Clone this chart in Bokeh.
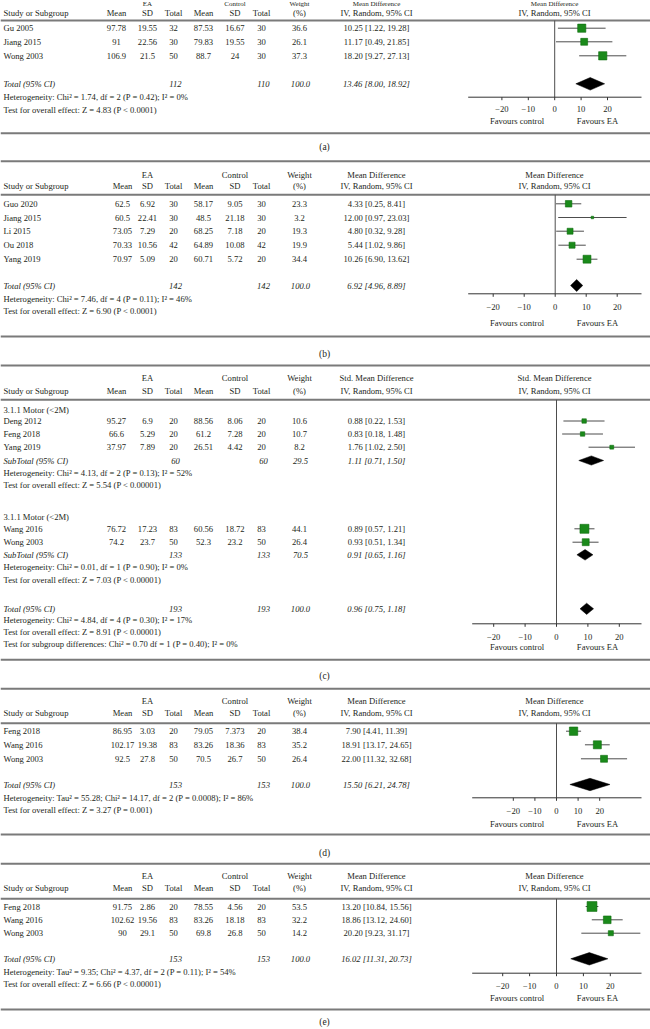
import numpy as np
from bokeh.plotting import figure
from bokeh.models import Range1d, ColumnDataSource
from bokeh.core.properties import value
from bokeh.embed import file_html
from bokeh.resources import INLINE

# ---------------- data ----------------
tick_values = [-20, -10, 0, 10, 20]
tick_labels = ["\u221220", "\u221210", "0", "10", "20"]

# (a)
a_study = ["Gu 2005", "Jiang 2015", "Wong 2003"]
a_ea_mean = [97.78, 91, 106.9]
a_ea_sd = [19.55, 22.56, 21.5]
a_ea_n = [32, 30, 50]
a_c_mean = [87.53, 79.83, 88.7]
a_c_sd = [16.67, 19.55, 24]
a_c_n = [30, 30, 30]
a_weight = [36.6, 26.1, 37.3]
a_est = [10.25, 11.17, 18.20]
a_lo = [1.22, 0.49, 9.27]
a_hi = [19.28, 21.85, 27.13]
a_total = [13.46, 8.00, 18.92]
a_total_n = [112, 110]
a_notes = ["Heterogeneity: Chi\u00b2 = 1.74, df = 2 (P = 0.42); I\u00b2 = 0%",
           "Test for overall effect: Z = 4.83 (P < 0.0001)"]

# (b)
b_study = ["Guo 2020", "Jiang 2015", "Li 2015", "Ou 2018", "Yang 2019"]
b_ea_mean = [62.5, 60.5, 73.05, 70.33, 70.97]
b_ea_sd = [6.92, 22.41, 7.29, 10.56, 5.09]
b_ea_n = [30, 30, 20, 42, 20]
b_c_mean = [58.17, 48.5, 68.25, 64.89, 60.71]
b_c_sd = [9.05, 21.18, 7.18, 10.08, 5.72]
b_c_n = [30, 30, 20, 42, 20]
b_weight = [23.3, 3.2, 19.3, 19.9, 34.4]
b_est = [4.33, 12.00, 4.80, 5.44, 10.26]
b_lo = [0.25, 0.97, 0.32, 1.02, 6.90]
b_hi = [8.41, 23.03, 9.28, 9.86, 13.62]
b_total = [6.92, 4.96, 8.89]
b_total_n = [142, 142]
b_notes = ["Heterogeneity: Chi\u00b2 = 7.46, df = 4 (P = 0.11); I\u00b2 = 46%",
           "Test for overall effect: Z = 6.90 (P < 0.0001)"]

# (c) standardised mean differences, two subgroups
c_group = "3.1.1 Motor (<2M)"
c1_study = ["Deng 2012", "Feng 2018", "Yang 2019"]
c1_ea_mean = [95.27, 66.6, 37.97]
c1_ea_sd = [6.9, 5.29, 7.89]
c1_ea_n = [20, 20, 20]
c1_c_mean = [88.56, 61.2, 26.51]
c1_c_sd = [8.06, 7.28, 4.42]
c1_c_n = [20, 20, 20]
c1_weight = [10.6, 10.7, 8.2]
c1_est = [0.88, 0.83, 1.76]
c1_lo = [0.22, 0.18, 1.02]
c1_hi = [1.53, 1.48, 2.50]
c1_sub = [1.11, 0.71, 1.50]
c1_sub_n = [60, 60]
c1_sub_w = 29.5
c1_notes = ["Heterogeneity: Chi\u00b2 = 4.13, df = 2 (P = 0.13); I\u00b2 = 52%",
            "Test for overall effect: Z = 5.54 (P < 0.00001)"]
c2_study = ["Wang 2016", "Wong 2003"]
c2_ea_mean = [76.72, 74.2]
c2_ea_sd = [17.23, 23.7]
c2_ea_n = [83, 50]
c2_c_mean = [60.56, 52.3]
c2_c_sd = [18.72, 23.2]
c2_c_n = [83, 50]
c2_weight = [44.1, 26.4]
c2_est = [0.89, 0.93]
c2_lo = [0.57, 0.51]
c2_hi = [1.21, 1.34]
c2_sub = [0.91, 0.65, 1.16]
c2_sub_n = [133, 133]
c2_sub_w = 70.5
c2_notes = ["Heterogeneity: Chi\u00b2 = 0.01, df = 1 (P = 0.90); I\u00b2 = 0%",
            "Test for overall effect: Z = 7.03 (P < 0.00001)"]
c_total = [0.96, 0.75, 1.18]
c_total_n = [193, 193]
c_notes = ["Heterogeneity: Chi\u00b2 = 4.84, df = 4 (P = 0.30); I\u00b2 = 17%",
           "Test for overall effect: Z = 8.91 (P < 0.00001)",
           "Test for subgroup differences: Chi\u00b2 = 0.70 df = 1 (P = 0.40); I\u00b2 = 0%"]

# (d)
d_study = ["Feng 2018", "Wang 2016", "Wong 2003"]
d_ea_mean = [86.95, 102.17, 92.5]
d_ea_sd = [3.03, 19.38, 27.8]
d_ea_n = [20, 83, 50]
d_c_mean = [79.05, 83.26, 70.5]
d_c_sd = [7.373, 18.36, 26.7]
d_c_n = [20, 83, 50]
d_weight = [38.4, 35.2, 26.4]
d_est = [7.90, 18.91, 22.00]
d_lo = [4.41, 13.17, 11.32]
d_hi = [11.39, 24.65, 32.68]
d_total = [15.50, 6.21, 24.78]
d_total_n = [153, 153]
d_notes = ["Heterogeneity: Tau\u00b2 = 55.28; Chi\u00b2 = 14.17, df = 2 (P = 0.0008); I\u00b2 = 86%",
           "Test for overall effect: Z = 3.27 (P = 0.001)"]

# (e)
e_study = ["Feng 2018", "Wang 2016", "Wong 2003"]
e_ea_mean = [91.75, 102.62, 90]
e_ea_sd = [2.86, 19.56, 29.1]
e_ea_n = [20, 83, 50]
e_c_mean = [78.55, 83.26, 69.8]
e_c_sd = [4.56, 18.18, 26.8]
e_c_n = [20, 83, 50]
e_weight = [53.5, 32.2, 14.2]
e_est = [13.20, 18.86, 20.20]
e_lo = [10.84, 13.12, 9.23]
e_hi = [15.56, 24.60, 31.17]
e_total = [16.02, 11.31, 20.73]
e_diamond = [12.2, 5.3, 19.1]   # diamond as drawn in the figure
e_total_n = [153, 153]
e_notes = ["Heterogeneity: Tau\u00b2 = 9.35; Chi\u00b2 = 4.37, df = 2 (P = 0.11); I\u00b2 = 54%",
           "Test for overall effect: Z = 6.66 (P < 0.00001)"]

# ---------------- styling ----------------
FONT = "Liberation Serif"
FS = "8.6px"
TXT = "#231f20"
RULE = "#7a7a7a"
LINE = "#4d4d4d"
GREEN = "#1a8a1a"
X0, X1 = 0, 650
Y0, Y1 = 0, 1029
XL = 3  # left text column

COL_SD, COL_N, COL_CM, COL_CSD, COL_CN, COL_W = 147, 173, 203, 234.5, 261, 299
COL_EFF, COL_FOR = 376, 554

p = figure(width=650, height=1029, x_range=Range1d(X0, X1), y_range=Range1d(Y1, Y0),
           output_backend="svg", toolbar_location=None, min_border=0,
           x_axis_location=None, y_axis_location=None)
p.grid.visible = False
p.outline_line_color = None
p.background_fill_color = "white"
p.border_fill_color = "white"
p.extra_x_ranges = {}


def text(xs, ys, ts, align="center", style="normal", size=FS, color=TXT, rng="default"):
    src = ColumnDataSource(dict(x=list(xs), y=list(ys), t=list(ts)))
    p.text(x="x", y="y", text="t", source=src, text_align=align, text_baseline="middle",
           text_font=value(FONT), text_font_size=size, text_font_style=style,
           text_color=color, x_range_name=rng)


def hrule(y):
    p.segment(x0=[0], x1=[650], y0=[y], y1=[y], line_color=RULE, line_width=2)


def fmt(v):
    return f"{v:g}"


def eff(e, l, h):
    return f"{e:.2f} [{l:.2f}, {h:.2f}]"


def add_range(key, zero_px, px_per_unit):
    p.extra_x_ranges[key] = Range1d((X0 - zero_px) / px_per_unit, (X1 - zero_px) / px_per_unit)


def studies(ys, rng, mean_x, names, em, esd, en, cm, csd, cn, w, est, lo, hi):
    n = len(names)
    text([XL] * n, ys, names, align="left")
    text([mean_x] * n, ys, [fmt(v) for v in em])
    text([COL_SD] * n, ys, [fmt(v) for v in esd])
    text([COL_N] * n, ys, [fmt(v) for v in en])
    text([COL_CM] * n, ys, [fmt(v) for v in cm])
    text([COL_CSD] * n, ys, [fmt(v) for v in csd])
    text([COL_CN] * n, ys, [fmt(v) for v in cn])
    text([COL_W] * n, ys, [f"{v:.1f}" for v in w])
    text([COL_EFF] * n, ys, [eff(a, b, c) for a, b, c in zip(est, lo, hi)])
    p.segment(x0=lo, x1=hi, y0=ys, y1=ys, x_range_name=rng, line_color=LINE, line_width=1)
    sizes = [max(2.5, 1.35 * np.sqrt(v)) for v in w]
    p.scatter(x=est, y=ys, size=sizes, marker="square", x_range_name=rng,
              fill_color=GREEN, line_color="#0d6b0d", line_width=0.6)


def summary(y, rng, label, ntot, w, tot, h, dia=None):
    text([XL], [y], [label], align="left", style="italic")
    text([COL_N + 2, COL_CN + 2, COL_W + 1], [y] * 3, [str(ntot[0]), str(ntot[1]), f"{w:.1f}"], style="italic")
    text([COL_EFF], [y], [eff(*tot)], style="italic")
    e, l, hh = dia if dia is not None else tot
    p.patches(xs=[[l, e, hh, e]], ys=[[y, y - h, y, y + h]], x_range_name=rng,
              fill_color="black", line_color="black", line_width=0.5)


def frame(rng, eff_title, head1, head2, rule_top, rule_head, axis_y, tick_y, fav_y,
          rule_bot, label, label_y, ax_l, mean_x, tick_scale=1.0, head1_size=FS):
    if rule_top is not None:
        hrule(rule_top)
    text([COL_SD, COL_CSD, COL_W, COL_EFF, COL_FOR], [head1] * 5,
         ["EA", "Control", "Weight", eff_title, eff_title], size=head1_size)
    text([XL], [head2], ["Study or Subgroup"], align="left")
    text([mean_x, COL_SD, COL_N, COL_CM, COL_CSD, COL_CN, COL_W, COL_EFF, COL_FOR], [head2] * 9,
         ["Mean", "SD", "Total", "Mean", "SD", "Total", "(%)", "IV, Random, 95% CI", "IV, Random, 95% CI"])
    hrule(rule_head)
    hrule(rule_bot)
    # zero line
    p.segment(x0=[0], x1=[0], y0=[rule_head], y1=[axis_y], x_range_name=rng, line_color=LINE, line_width=1)
    # axis
    p.segment(x0=[ax_l], x1=[641], y0=[axis_y], y1=[axis_y], line_color="#333333", line_width=1)
    tv = [t * tick_scale for t in tick_values]
    p.segment(x0=tv, x1=tv, y0=[axis_y] * 5, y1=[axis_y + 3] * 5, x_range_name=rng,
              line_color="#333333", line_width=1)
    text(tv, [tick_y] * 5, tick_labels, rng=rng)
    text([516.5, 597], [fav_y] * 2, ["Favours control", "Favours EA"])
    text([324], [label_y], [label], size="9.5px")


# ---------- panel (a) ----------
add_range("a", 554.2, 2.64)
frame("a", "Mean Difference", 3.9, 12, None, 20, 96.7, 108.3, 120.7, 132.7, "(a)", 146.7, 467.7, 116,
      head1_size="7px")
studies([27.7, 41.3, 55.3], "a", 116, a_study, a_ea_mean, a_ea_sd, a_ea_n, a_c_mean, a_c_sd, a_c_n,
        a_weight, a_est, a_lo, a_hi)
summary(83.3, "a", "Total (95% CI)", a_total_n, 100.0, a_total, 6.3)
text([XL] * 2, [96.7, 109.3], a_notes, align="left")

# ---------- panel (b) ----------
add_range("b", 554.7, 3.1)
frame("b", "Mean Difference", 174.5, 185, 160.7, 194.3, 293.3, 306.7, 322.7, 336, "(b)", 353, 467.7, 122)
studies([203.3, 217, 230.7, 244.7, 258.7], "b", 122, b_study, b_ea_mean, b_ea_sd, b_ea_n, b_c_mean,
        b_c_sd, b_c_n, b_weight, b_est, b_lo, b_hi)
summary(285, "b", "Total (95% CI)", b_total_n, 100.0, b_total, 6.0)
text([XL] * 2, [298, 310.5], b_notes, align="left")

# ---------- panel (c) ----------
add_range("c", 556, 31.4)
frame("c", "Std. Mean Difference", 377.3, 390, 365, 399.3, 623.3, 636.7, 646.7, 659.3, "(c)", 675,
      471.7, 116, tick_scale=0.1)
text([XL], [409.3], [c_group], align="left")
studies([420.5, 433.5, 446.7], "c", 116, c1_study, c1_ea_mean, c1_ea_sd, c1_ea_n, c1_c_mean, c1_c_sd,
        c1_c_n, c1_weight, c1_est, c1_lo, c1_hi)
summary(460, "c", "SubTotal (95% CI)", c1_sub_n, c1_sub_w, c1_sub, 4.6)
text([XL] * 2, [472, 484.5], c1_notes, align="left")
text([XL], [516], [c_group], align="left")
studies([528.3, 541.7], "c", 116, c2_study, c2_ea_mean, c2_ea_sd, c2_ea_n, c2_c_mean, c2_c_sd,
        c2_c_n, c2_weight, c2_est, c2_lo, c2_hi)
summary(554.3, "c", "SubTotal (95% CI)", c2_sub_n, c2_sub_w, c2_sub, 5.3)
text([XL] * 2, [566.5, 579], c2_notes, align="left")
summary(608.3, "c", "Total (95% CI)", c_total_n, 100.0, c_total, 5.6)
text([XL] * 3, [619.5, 631.5, 643.5], c_notes, align="left")

# ---------- panel (d) ----------
add_range("d", 556, 2.16)
frame("d", "Mean Difference", 700.7, 712, 688.3, 722.7, 797.3, 810, 823.3, 834, "(d)", 852.7, 471.7, 122)
studies([730.7, 744.3, 758.3], "d", 122, d_study, d_ea_mean, d_ea_sd, d_ea_n, d_c_mean, d_c_sd,
        d_c_n, d_weight, d_est, d_lo, d_hi)
summary(784, "d", "Total (95% CI)", d_total_n, 100.0, d_total, 6.2)
text([XL] * 2, [797, 809.5], d_notes, align="left")

# ---------- panel (e) ----------
add_range("e", 556, 2.69)
frame("e", "Mean Difference", 875, 887.3, 863.3, 898.3, 972.7, 985, 997.3, 1009, "(e)", 1021, 471.7, 122)
studies([906, 919.3, 932.7], "e", 122, e_study, e_ea_mean, e_ea_sd, e_ea_n, e_c_mean, e_c_sd,
        e_c_n, e_weight, e_est, e_lo, e_hi)
summary(958.3, "e", "Total (95% CI)", e_total_n, 100.0, e_total, 6.2, dia=e_diamond)
text([XL] * 2, [971, 983.7], e_notes, align="left")

open("out.html", "w").write(file_html(p, INLINE))
